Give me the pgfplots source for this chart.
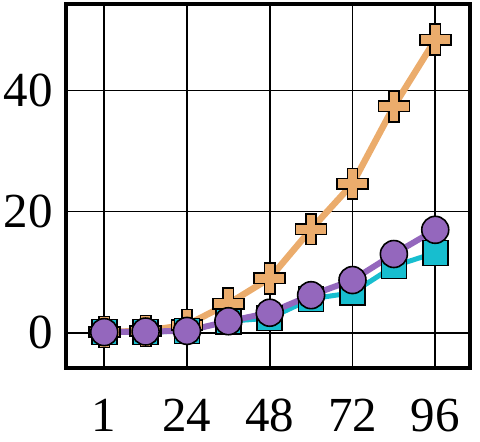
\documentclass[border=0pt]{standalone}
\usepackage{pgfplots}
\pgfplotsset{compat=1.18}
\usepackage{fontspec}
\setmainfont{Liberation Serif}
\definecolor{corange}{RGB}{235,172,108}
\definecolor{cteal}{RGB}{23,190,207}
\definecolor{cpurple}{RGB}{148,103,189}
\pgfdeclareplotmark{fatplus}{%
  \pgfpathmoveto{\pgfpoint{-0.33\pgfplotmarksize}{\pgfplotmarksize}}%
  \pgfpathlineto{\pgfpoint{0.33\pgfplotmarksize}{\pgfplotmarksize}}%
  \pgfpathlineto{\pgfpoint{0.33\pgfplotmarksize}{0.33\pgfplotmarksize}}%
  \pgfpathlineto{\pgfpoint{\pgfplotmarksize}{0.33\pgfplotmarksize}}%
  \pgfpathlineto{\pgfpoint{\pgfplotmarksize}{-0.33\pgfplotmarksize}}%
  \pgfpathlineto{\pgfpoint{0.33\pgfplotmarksize}{-0.33\pgfplotmarksize}}%
  \pgfpathlineto{\pgfpoint{0.33\pgfplotmarksize}{-\pgfplotmarksize}}%
  \pgfpathlineto{\pgfpoint{-0.33\pgfplotmarksize}{-\pgfplotmarksize}}%
  \pgfpathlineto{\pgfpoint{-0.33\pgfplotmarksize}{-0.33\pgfplotmarksize}}%
  \pgfpathlineto{\pgfpoint{-\pgfplotmarksize}{-0.33\pgfplotmarksize}}%
  \pgfpathlineto{\pgfpoint{-\pgfplotmarksize}{0.33\pgfplotmarksize}}%
  \pgfpathlineto{\pgfpoint{-0.33\pgfplotmarksize}{0.33\pgfplotmarksize}}%
  \pgfpathclose
  \pgfusepathqfillstroke}
\begin{document}
\begin{tikzpicture}
\begin{axis}[
  scale only axis,
  width=404pt, height=364pt,
  xmin=-0.92, xmax=8.84,
  ymin=-5.8, ymax=54.3,
  xtick={0,2,4,6,8},
  xticklabels={1,24,48,72,96},
  ytick={0,20,40},
  grid=major,
  major grid style={black, line width=1.6pt},
  major tick length=0pt,
  axis line style={line width=4pt},
  /pgf/number format/assume math mode=true,
  tick label style={font=\fontsize{49}{59}\selectfont, inner sep=0pt},
  xticklabel style={anchor=north, yshift=-31pt},
  yticklabel style={anchor=east, xshift=-13pt},
  clip=false,
]
\addplot[corange, line width=6.5pt, mark=fatplus, mark size=15.5pt,
  mark options={fill=corange, draw=black, line width=1.6pt}]
  coordinates {(0,0.1) (1,0.3) (2,1.3) (3,4.8) (4,9.0) (5,17.1) (6,24.6) (7,37.4) (8,48.4)};
\addplot[cteal, line width=5pt, mark=square*, mark size=12.5pt,
  mark options={fill=cteal, draw=black, line width=1.6pt}]
  coordinates {(0,0.1) (1,0.1) (2,0.3) (3,1.9) (4,2.4) (5,5.6) (6,6.6) (7,11.0) (8,13.2)};
\addplot[cpurple, line width=6pt, mark=*, mark size=13.5pt,
  mark options={fill=cpurple, draw=black, line width=1.6pt}]
  coordinates {(0,0.1) (1,0.2) (2,0.3) (3,1.9) (4,3.3) (5,6.2) (6,8.7) (7,13.0) (8,17.0)};
\end{axis}
\path ([shift={(-4pt,-9pt)}]current bounding box.south west) rectangle ([shift={(8pt,2pt)}]current bounding box.north east);
\end{tikzpicture}
\end{document}
